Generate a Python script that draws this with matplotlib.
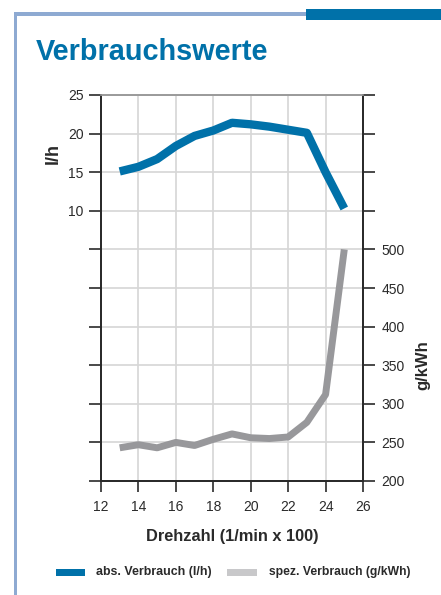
import matplotlib
matplotlib.use("Agg")
import matplotlib.pyplot as plt
from matplotlib.patches import Rectangle
import numpy as np

# ---- data ----
rpm = [13, 14, 15, 16, 17, 18, 19, 20, 21, 22, 23, 24, 25]
abs_verbrauch = [15.1, 15.7, 16.7, 18.4, 19.7, 20.4, 21.4, 21.2, 20.9, 20.5, 20.1, 15.0, 10.3]
spez_verbrauch = [243, 247, 243, 250, 246, 254, 261, 256, 255, 257, 276, 312, 500]

x_ticks = [12, 14, 16, 18, 20, 22, 24, 26]
left_ticks = [-25, -20, -15, -10, -5, 0, 5, 10, 15, 20, 25]
left_labels = ["", "", "", "", "", "", "", "10", "15", "20", "25"]
right_ticks = [200, 250, 300, 350, 400, 450, 500, 550, 600, 650, 700]
right_labels = ["200", "250", "300", "350", "400", "450", "500", "", "", "", ""]

title = "Verbrauchswerte"
xlabel = "Drehzahl (1/min x 100)"
ylabel_left = "l/h"
ylabel_right = "g/kWh"
legend_labels = ["abs. Verbrauch (l/h)", "spez. Verbrauch (g/kWh)"]

BLUE = "#0071a9"
GRAY_LINE = "#98989b"
GRAY_LEG = "#c8c8ca"
FRAME = "#8eaad2"
DARK = "#2a2a2a"
GRID = "#d6d6d6"

BOLD = ["Liberation Sans", "DejaVu Sans"]
REG = ["Liberation Sans", "DejaVu Sans"]

W, H = 441, 595
fig = plt.figure(figsize=(W / 100, H / 100), dpi=100)

# frame decorations
fig.patches.append(Rectangle((14 / W, 1 - 595 / H), 3 / W, (595 - 12) / H,
                             transform=fig.transFigure, color=FRAME, lw=0))
fig.patches.append(Rectangle((14 / W, 1 - 16 / H), (306 - 14) / W, 4 / H,
                             transform=fig.transFigure, color=FRAME, lw=0))
fig.patches.append(Rectangle((306 / W, 1 - 20 / H), (441 - 306) / W, 11 / H,
                             transform=fig.transFigure, color=BLUE, lw=0))

fig.text(36 / W, 1 - 60 / H, title, family=REG, weight="bold", fontsize=20.8,
         color=BLUE, ha="left", va="baseline")

# axes
left, right, top, bottom = 101, 363, 95, 481
ax = fig.add_axes([left / W, 1 - bottom / H, (right - left) / W, (bottom - top) / H])
ax2 = ax.twinx()

ax.set_xlim(12, 26)
ax.set_ylim(-25, 25)
ax2.set_ylim(200, 700)

ax.set_xticks(x_ticks)
ax.set_xticklabels([str(t) for t in x_ticks], family=REG, fontsize=10, color=DARK)
ax.set_yticks(left_ticks)
ax.set_yticklabels(left_labels, family=REG, fontsize=10, color=DARK)
ax2.set_yticks(right_ticks)
ax2.set_yticklabels(right_labels, family=REG, fontsize=10, color=DARK)

ax.grid(True, color=GRID, lw=1.2)
ax.set_axisbelow(True)

ax.tick_params(axis="x", direction="out", length=8, width=1.2, color=DARK, pad=6)
ax.tick_params(axis="y", direction="out", length=8.5, width=1.2, color=DARK, pad=4)
ax2.tick_params(axis="y", direction="out", length=8.5, width=1.2, color=DARK, pad=5)

for a in (ax, ax2):
    for s in ("left", "right", "bottom"):
        a.spines[s].set_color(DARK)
        a.spines[s].set_linewidth(1.3)
    a.spines["top"].set_color("#9a9a9a")
    a.spines["top"].set_linewidth(1.2)

ax.plot(rpm, abs_verbrauch, color=BLUE, lw=6, solid_capstyle="butt",
        solid_joinstyle="round", zorder=3)
ax2.plot(rpm, spez_verbrauch, color=GRAY_LINE, lw=5, solid_capstyle="butt",
         solid_joinstyle="round", zorder=3)

# axis labels
fig.text(53 / W, 1 - 153 / H, ylabel_left, family=BOLD, weight="bold",
         fontsize=13, rotation=90, ha="center", va="center", color=DARK)
fig.text(423 / W, 1 - 365 / H, ylabel_right, family=BOLD, weight="bold",
         fontsize=12, rotation=90, ha="center", va="center", color=DARK)
fig.text(232 / W, 1 - 537 / H, xlabel, family=BOLD, weight="bold",
         fontsize=11.8, ha="center", va="center", color=DARK)

# legend
fig.patches.append(Rectangle((56 / W, 1 - 576 / H), 29 / W, 7 / H,
                             transform=fig.transFigure, color=BLUE, lw=0))
fig.text(96 / W, 1 - 572 / H, legend_labels[0], family=BOLD, weight="bold",
         fontsize=8.9, ha="left", va="center", color=DARK)
fig.patches.append(Rectangle((227 / W, 1 - 576 / H), 30 / W, 7 / H,
                             transform=fig.transFigure, color=GRAY_LEG, lw=0))
fig.text(269 / W, 1 - 572 / H, legend_labels[1], family=BOLD, weight="bold",
         fontsize=8.7, ha="left", va="center", color=DARK)

fig.savefig("out.png", dpi=100)
